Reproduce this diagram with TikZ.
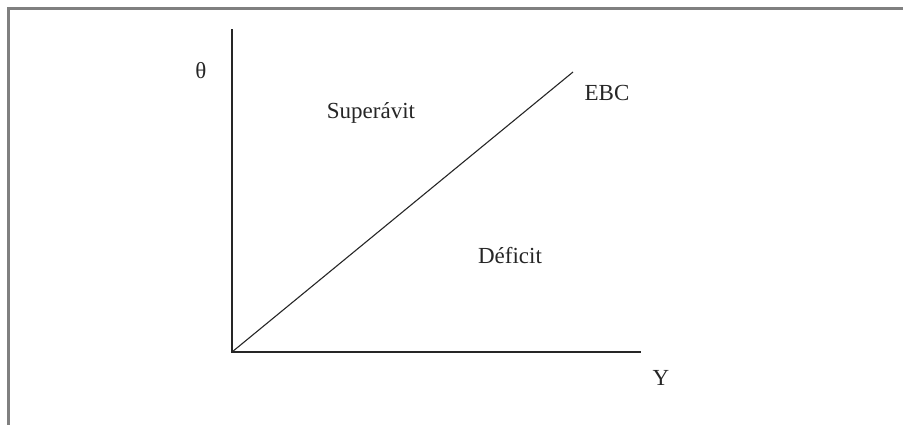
\documentclass[tikz,border=0pt]{standalone}
\usepackage{fontspec}
\setmainfont{Liberation Serif}
\begin{document}
\begin{tikzpicture}[x=1pt,y=-1pt,
  axis/.style={draw=black!85,line width=1.3pt},
  frame/.style={draw=black!50,line width=3pt},
  lbl/.style={font=\fontsize{23}{27}\selectfont,text=black!85,inner sep=0pt}]
\useasboundingbox (0,0) rectangle (903,424);
\draw[frame] (8,430) -- (8,8) -- (910,8);
\coordinate (O) at (232,352);
\coordinate (ytop) at (232,29);
\coordinate (xend) at (641,352);
\coordinate (ebcend) at (573,72);
\draw[axis] (ytop) -- (O) -- (xend);
\draw[axis,line width=1.1pt] (O) -- (ebcend);
\node[lbl] (theta) at (201,71) {θ};
\node[lbl] (sup) at (371,113) {Superávit};
\node[lbl] (ebc) at (607,93) {EBC};
\node[lbl] (def) at (510,256) {Déficit};
\node[lbl] (ylab) at (661,378) {Y};
\end{tikzpicture}
\end{document}
